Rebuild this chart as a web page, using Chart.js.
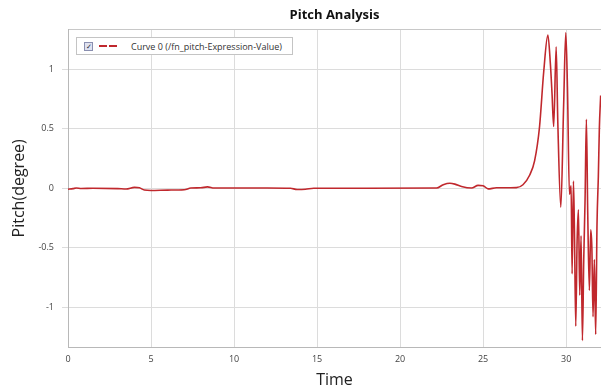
<!DOCTYPE html>
<html>
<head>
<meta charset="utf-8">
<script src="https://cdn.jsdelivr.net/npm/chart.js@4/dist/chart.umd.min.js"></script>
<style>
    body { margin: 0; background: #fff; }
    #wrap { position: relative; width: 601px; height: 390px; }
    #legendBox {
        position: absolute; left: 76px; top: 37px; width: 215px; height: 16px;
        border: 1px solid #c4c4c4; background: #fff;
        font: 9px "Open Sans", sans-serif; color: #333;
        display: flex; align-items: center;
    }
    #legendBox .chk {
        width: 7px; height: 7px; margin-left: 7px; border: 1px solid #8a8fb0;
        background: #dfe2f0; font-size: 7px; line-height: 7px; text-align: center; color: #223;
    }
    #legendBox .swatch { width: 18px; height: 2px; margin: 0 14px 0 6px; background: linear-gradient(to right, #c0282d 0 8px, transparent 8px 10px, #c0282d 10px); }
</style>
</head>
<body>
<div id="wrap">
    <canvas id="pitchChart" width="601" height="390"></canvas>
    <div id="legendBox"><span class="chk">&#10003;</span><span class="swatch"></span><span id="legendText"></span></div>
</div>
<script>
const chartTitle = 'Pitch Analysis';
const seriesName = 'Curve 0 (/fn_pitch-Expression-Value)';
const xTicks = [0, 5, 10, 15, 20, 25, 30];
const yTicks = [-1, -0.5, 0, 0.5, 1];

const times = [
    0.0, 0.3, 0.5, 0.8, 1.5, 3.0, 3.5, 4.0, 4.3, 4.6, 5.0, 6.0, 7.0, 7.4, 8.0, 8.4, 8.8,
    10.0, 12.0, 13.4, 13.8, 14.3, 14.8, 18.0, 22.2, 22.6, 23.0, 23.3, 23.7, 24.3, 24.7,
    25.0, 25.3, 25.8, 27.0, 27.4, 27.8, 28.1, 28.4, 28.65, 28.9, 29.05, 29.15, 29.25,
    29.4, 29.5, 29.68, 29.85, 29.98, 30.08, 30.2, 30.3, 30.36, 30.44, 30.5, 30.58, 30.66,
    30.74, 30.82, 30.9, 30.98, 31.06, 31.14, 31.22, 31.3, 31.4, 31.48, 31.55, 31.62,
    31.7, 31.78, 31.86, 31.94, 32.0, 32.08
];
const pitch = [
    -0.008, -0.003, 0.002, -0.002, 0.0, -0.003, -0.006, 0.008, 0.004, -0.015, -0.018, -0.015, -0.012, 0.002, 0.004, 0.012, 0.003,
    0.002, 0.002, 0.0, -0.01, -0.008, 0.0, 0.0, 0.002, 0.03, 0.042, 0.035, 0.015, 0.002, 0.025,
    0.022, -0.005, 0.004, 0.006, 0.03, 0.11, 0.23, 0.52, 0.98, 1.29, 1.05, 0.80, 0.52,
    1.19, 0.55, -0.16, 0.7, 1.31, 0.85, -0.05, 0.02, -0.72, 0.06, -0.35, -1.16, -0.45,
    -0.18, -0.9, -0.4, -1.28, -0.6, -0.1, 0.58, -0.2, -0.86, -0.35, -0.5, -1.08,
    -0.6, -1.23, -0.3, 0.1, 0.5, 0.78
];

document.getElementById('legendText').textContent = seriesName;

const points = times.map((t, i) => ({ x: t, y: pitch[i] }));
const tickFont = { family: '"Open Sans", sans-serif', size: 9 };

const ctx = document.getElementById('pitchChart');

const pitchChart = new Chart(ctx, {
    type: 'line',
    data: {
        datasets: [{
            label: seriesName,
            data: points,
            borderColor: '#c0282d',
            borderWidth: 1.6,
            pointRadius: 0,
            cubicInterpolationMode: 'monotone',
            fill: false
        }]
    },
    options: {
        responsive: false,
        animation: false,
        layout: { padding: { left: 0, right: 0, top: 0, bottom: 0 } },
        plugins: {
            legend: { display: false },
            tooltip: { enabled: false },
            title: {
                display: true,
                text: chartTitle,
                fullSize: false,
                color: '#111',
                font: { family: '"Open Sans", sans-serif', size: 13, weight: 'bold' },
                padding: { top: 7, bottom: 7 }
            }
        },
        scales: {
            x: {
                type: 'linear',
                min: 0,
                max: 32.1,
                afterBuildTicks: axis => { axis.ticks = xTicks.map(v => ({ value: v })); },
                afterFit: axis => { axis.height = 43; },
                grid: { color: '#dcdcdc', drawTicks: false },
                border: { color: '#b8b8b8' },
                ticks: { color: '#444', font: tickFont, padding: 7, maxRotation: 0 },
                title: {
                    display: true,
                    text: 'Time',
                    color: '#222',
                    font: { family: '"Open Sans", sans-serif', size: 16 },
                    padding: { top: 2, bottom: 0 }
                }
            },
            xTop: {
                type: 'linear',
                position: 'top',
                min: 0,
                max: 32.1,
                grid: { drawOnChartArea: false, drawTicks: false },
                border: { color: '#c8c8c8' },
                ticks: { display: false }
            },
            y: {
                min: -1.335,
                max: 1.335,
                afterBuildTicks: axis => { axis.ticks = yTicks.map(v => ({ value: v })); },
                afterFit: axis => { axis.width = 68; },
                grid: { color: '#dcdcdc', tickLength: 6 },
                border: { color: '#b8b8b8' },
                ticks: { color: '#444', font: tickFont, padding: 8, callback: v => String(v) },
                title: {
                    display: true,
                    text: 'Pitch(degree)',
                    color: '#222',
                    font: { family: '"Open Sans", sans-serif', size: 16 },
                    padding: { top: 10, bottom: 0 }
                }
            }
        }
    }
});
</script>
</body>
</html>
